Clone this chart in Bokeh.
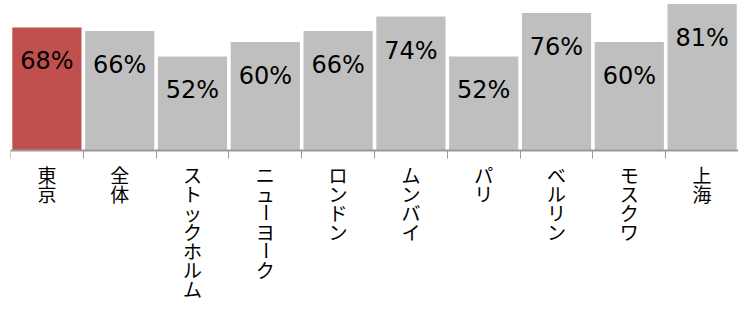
import math
from bokeh.plotting import figure
from bokeh.models import ColumnDataSource, Range1d, FixedTicker
from bokeh.core.properties import value
from bokeh.embed import file_html
from bokeh.resources import INLINE

categories = ["東京", "全体", "ストックホルム", "ニューヨーク", "ロンドン",
              "ムンバイ", "パリ", "ベルリン", "モスクワ", "上海"]
values = [68, 66, 52, 60, 66, 74, 52, 76, 60, 81]
highlight = "東京"

RED = "#C0504D"
GRAY = "#BFBFBF"

W, H = 738, 304
LEFT = 10          # frame left edge (px)
AXIS_Y = 150       # axis position from top (px)
PX_PER_PCT = 1.81
N = len(categories)

xs = [i + 0.5 for i in range(N)]
bar_src = ColumnDataSource(dict(
    x=xs,
    top=values,
    color=[RED if c == highlight else GRAY for c in categories],
    label=[f"{v}%" for v in values],
))

# per-character vertical labels
cx, cy, ch, cang, coff = [], [], [], [], []
for i, name in enumerate(categories):
    for r, c in enumerate(name):
        cx.append(xs[i])
        cy.append(0)
        ch.append(c)
        cang.append(math.pi / 2 if c == "ー" else 0.0)
        coff.append(24 + r * 19)
char_src = ColumnDataSource(dict(x=cx, y=cy, t=ch, a=cang, off=coff))

p = figure(width=W, height=H, output_backend="svg", toolbar_location=None,
           x_range=Range1d(0, N),
           y_range=Range1d(-(H - AXIS_Y) / PX_PER_PCT, AXIS_Y / PX_PER_PCT),
           min_border_left=LEFT, min_border_right=0, min_border_top=0, min_border_bottom=0)
p.outline_line_color = None
p.grid.visible = False
p.yaxis.visible = False

p.vbar(x="x", top="top", width=0.95, bottom=0, color="color", line_color=None, source=bar_src)

p.text(x="x", y="top", text="label", source=bar_src, text_align="center",
       text_baseline="alphabetic", y_offset=34, text_color="black",
       text_font=value("DejaVu Sans"), text_font_size="24px")

p.text(x="x", y="y", text="t", angle="a", y_offset="off", source=char_src,
       text_align="center", text_baseline="middle", text_color="black",
       text_font=value("Noto Sans CJK JP"), text_font_size="19px")

ax = p.xaxis[0]
ax.fixed_location = 0
ax.ticker = FixedTicker(ticks=list(range(0, N + 1)))
ax.major_label_overrides = {i: "" for i in range(0, N + 1)}
ax.major_tick_in = 0
ax.major_tick_out = 8
ax.minor_tick_line_color = None
ax.axis_line_color = "#999999"
ax.axis_line_width = 2
ax.major_tick_line_color = "#999999"
ax.major_tick_line_width = 1

open("out.html", "w").write(file_html(p, INLINE))
